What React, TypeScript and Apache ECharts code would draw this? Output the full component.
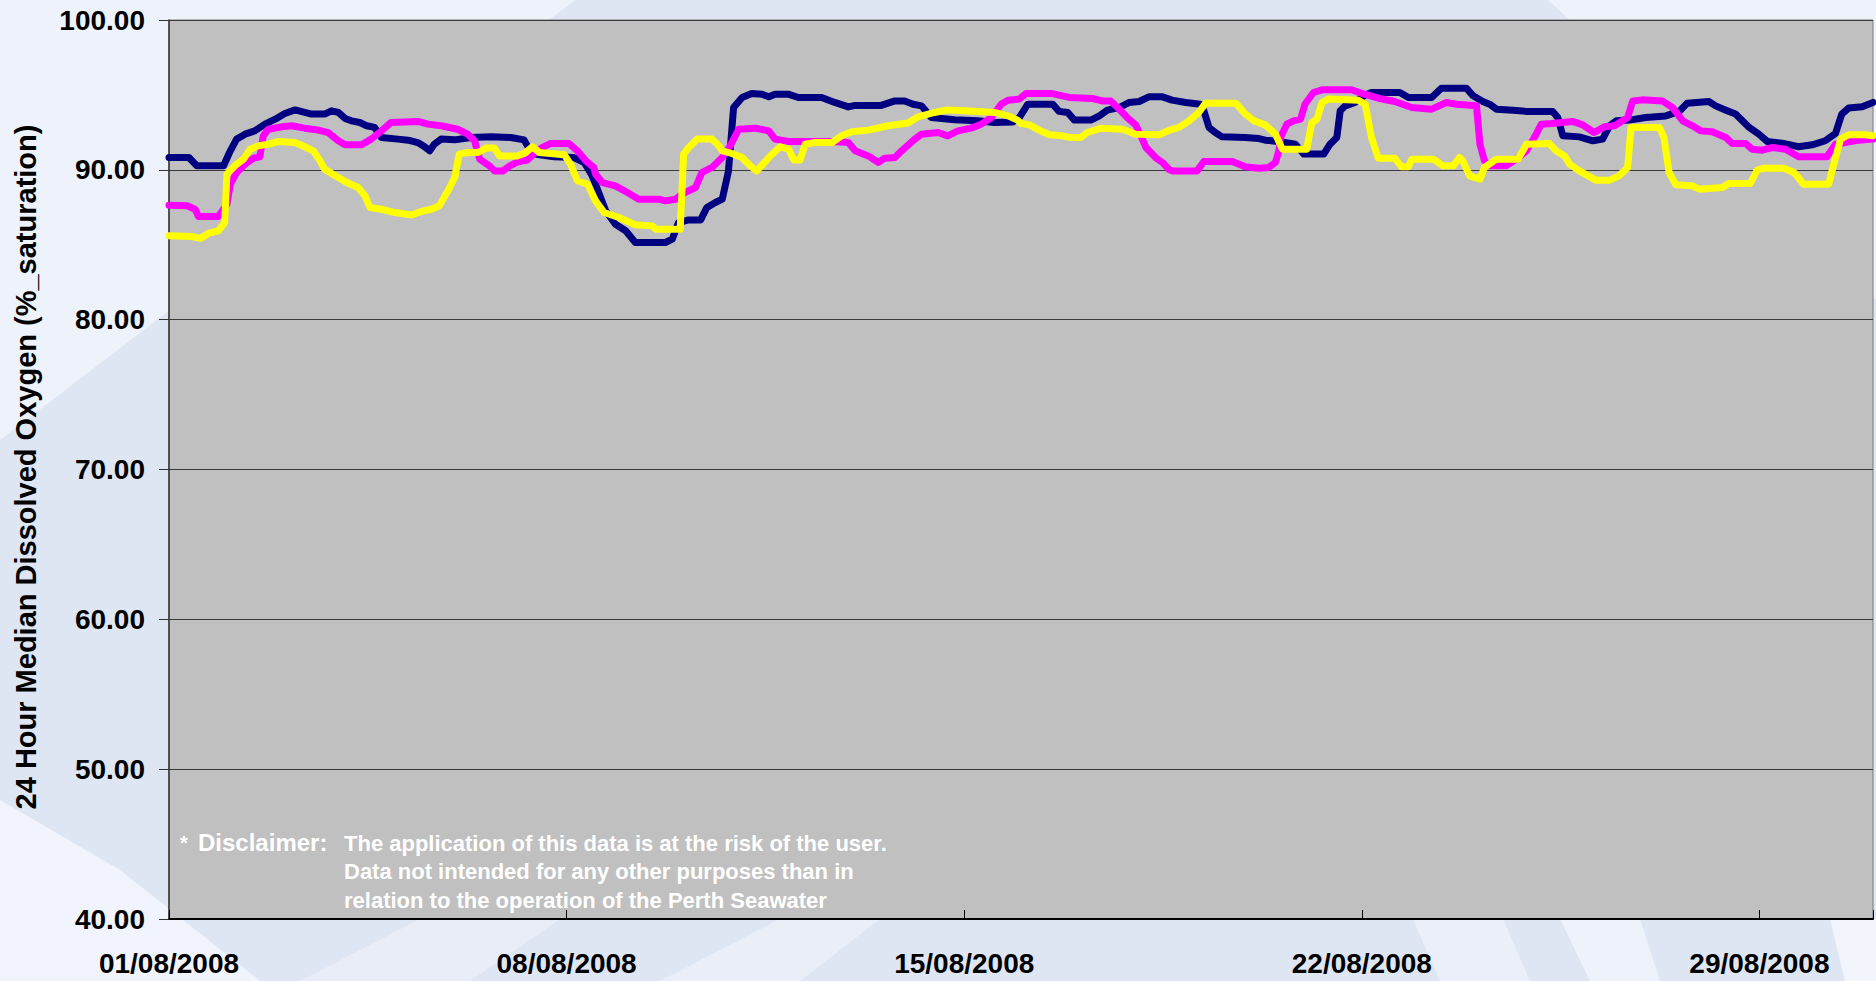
import React, { useEffect, useRef } from "react";
import * as echarts from "echarts";

const xTickLabels = ["01/08/2008", "08/08/2008", "15/08/2008", "22/08/2008", "29/08/2008"];
const yAxisTitle = "24 Hour Median Dissolved Oxygen (%_saturation)";
const disclaimerLines = [
  "The application of this data is at the risk of the user.",
  "Data not intended for any other purposes than in",
  "relation to the operation of the Perth Seawater",
];

// day offsets from 01/08/2008 00:00 and values (% saturation)
const navyDays = [0, 0.35, 0.49, 0.96, 1.08, 1.19, 1.34, 1.51, 1.69, 1.87, 2.04, 2.22, 2.39, 2.51, 2.74, 2.86, 2.98, 3.1, 3.21, 3.36, 3.48, 3.62, 3.74, 4.03, 4.21, 4.38, 4.5, 4.59, 4.67, 4.79, 5.03, 5.32, 5.67, 6.02, 6.25, 6.31, 6.43, 6.78, 7.13, 7.31, 7.45, 7.51, 7.69, 7.86, 8.04, 8.21, 8.74, 8.86, 8.97, 9.15, 9.36, 9.47, 9.62, 9.74, 9.85, 9.94, 10.09, 10.26, 10.44, 10.56, 10.67, 10.9, 11.08, 11.49, 11.72, 11.96, 12.08, 12.54, 12.78, 12.95, 13.1, 13.25, 13.42, 13.83, 14.24, 14.53, 14.86, 14.97, 15.12, 15.56, 15.67, 15.82, 15.94, 16.23, 16.38, 16.52, 16.73, 16.9, 17.08, 17.25, 17.49, 17.66, 17.9, 18.16, 18.22, 18.31, 18.42, 18.54, 18.95, 19.19, 19.3, 19.54, 19.83, 19.98, 20.33, 20.44, 20.56, 20.62, 20.71, 20.88, 21.06, 21.17, 21.67, 21.82, 22.23, 22.4, 22.84, 22.96, 23.13, 23.25, 23.37, 23.66, 23.9, 24.36, 24.45, 24.54, 24.83, 25.07, 25.24, 25.36, 25.48, 25.71, 26.0, 26.35, 26.59, 26.73, 27.11, 27.23, 27.41, 27.58, 27.82, 27.99, 28.14, 28.4, 28.69, 28.93, 29.16, 29.34, 29.45, 29.57, 29.81, 30.0];
const navyValues = [90.82, 90.82, 90.27, 90.27, 91.27, 92.05, 92.38, 92.6, 93.05, 93.38, 93.76, 94.0, 93.83, 93.72, 93.72, 93.94, 93.83, 93.43, 93.27, 93.16, 92.94, 92.83, 92.16, 92.05, 91.98, 91.82, 91.54, 91.27, 91.71, 92.05, 92.0, 92.16, 92.2, 92.16, 92.0, 91.6, 91.05, 90.87, 90.82, 90.49, 89.6, 89.04, 87.26, 86.37, 85.93, 85.15, 85.15, 85.37, 86.48, 86.66, 86.66, 87.49, 87.82, 88.04, 89.93, 94.16, 94.83, 95.1, 95.05, 94.88, 95.05, 95.05, 94.83, 94.83, 94.5, 94.2, 94.3, 94.3, 94.6, 94.6, 94.38, 94.27, 93.49, 93.34, 93.27, 93.16, 93.2, 93.49, 94.38, 94.38, 93.9, 93.83, 93.32, 93.32, 93.6, 93.98, 94.16, 94.49, 94.56, 94.87, 94.87, 94.65, 94.49, 94.38, 93.94, 92.83, 92.49, 92.2, 92.16, 92.09, 91.98, 91.89, 91.71, 91.05, 91.05, 91.71, 92.16, 93.94, 94.27, 94.49, 95.0, 95.16, 95.16, 94.83, 94.83, 95.45, 95.45, 94.94, 94.56, 94.38, 94.05, 93.98, 93.9, 93.9, 93.49, 92.27, 92.2, 91.94, 92.05, 92.94, 93.27, 93.32, 93.49, 93.6, 93.9, 94.45, 94.56, 94.27, 93.98, 93.72, 92.83, 92.38, 91.89, 91.78, 91.54, 91.67, 91.94, 92.43, 93.72, 94.12, 94.21, 94.5];

const magentaDays = [0, 0.32, 0.46, 0.52, 0.87, 1.02, 1.08, 1.19, 1.34, 1.49, 1.6, 1.66, 1.75, 1.98, 2.16, 2.39, 2.63, 2.8, 2.98, 3.1, 3.39, 3.56, 3.74, 3.91, 4.38, 4.56, 4.79, 5.08, 5.26, 5.38, 5.47, 5.64, 5.73, 5.88, 6.0, 6.14, 6.31, 6.43, 6.55, 6.72, 7.04, 7.19, 7.34, 7.48, 7.51, 7.63, 7.86, 8.04, 8.27, 8.62, 8.74, 8.92, 9.03, 9.27, 9.38, 9.56, 9.74, 9.88, 10.03, 10.32, 10.56, 10.67, 10.91, 11.67, 11.96, 12.08, 12.31, 12.49, 12.6, 12.78, 12.9, 13.13, 13.25, 13.54, 13.71, 13.89, 14.12, 14.3, 14.48, 14.65, 14.77, 14.97, 15.09, 15.53, 15.73, 15.85, 16.26, 16.43, 16.58, 16.7, 16.87, 17.02, 17.11, 17.2, 17.37, 17.49, 17.6, 17.66, 18.1, 18.22, 18.72, 18.95, 19.19, 19.36, 19.48, 19.54, 19.57, 19.68, 19.8, 19.92, 20.0, 20.15, 20.3, 20.82, 21.0, 21.29, 21.58, 21.88, 22.23, 22.49, 22.67, 23.02, 23.08, 23.16, 23.25, 23.54, 23.75, 23.9, 24.07, 24.16, 24.33, 24.71, 24.89, 25.09, 25.27, 25.45, 25.59, 25.68, 25.77, 25.94, 26.29, 26.47, 26.65, 26.82, 26.97, 27.17, 27.41, 27.52, 27.76, 27.87, 28.05, 28.23, 28.46, 28.69, 29.19, 29.34, 29.51, 29.75, 30.0];
const magentaValues = [87.64, 87.6, 87.37, 86.88, 86.88, 87.71, 89.04, 89.82, 90.38, 90.78, 90.87, 92.27, 92.71, 92.87, 92.94, 92.78, 92.65, 92.49, 91.94, 91.67, 91.67, 92.05, 92.6, 93.16, 93.23, 93.05, 92.94, 92.71, 92.38, 91.94, 90.71, 90.27, 89.93, 89.93, 90.27, 90.53, 90.65, 91.09, 91.45, 91.76, 91.76, 91.27, 90.6, 90.16, 89.71, 89.15, 88.93, 88.55, 88.04, 88.04, 87.93, 88.04, 88.38, 88.82, 89.82, 90.16, 90.82, 91.6, 92.71, 92.78, 92.6, 92.05, 91.89, 91.89, 91.82, 91.27, 90.93, 90.49, 90.78, 90.82, 91.27, 92.05, 92.38, 92.49, 92.27, 92.6, 92.78, 93.05, 93.49, 94.38, 94.65, 94.72, 95.1, 95.1, 94.94, 94.83, 94.76, 94.6, 94.6, 94.16, 93.49, 93.0, 92.27, 91.49, 90.82, 90.49, 90.04, 89.93, 89.93, 90.56, 90.56, 90.2, 90.11, 90.16, 90.49, 91.27, 92.16, 93.05, 93.27, 93.38, 94.38, 95.16, 95.34, 95.34, 95.1, 94.78, 94.56, 94.16, 94.05, 94.49, 94.38, 94.27, 91.71, 90.6, 90.27, 90.27, 90.78, 91.27, 92.38, 93.05, 93.09, 93.23, 93.0, 92.49, 92.87, 92.94, 93.27, 93.49, 94.6, 94.67, 94.6, 94.16, 93.27, 92.94, 92.6, 92.54, 92.16, 91.76, 91.76, 91.38, 91.31, 91.49, 91.38, 90.87, 90.87, 91.71, 91.82, 91.98, 92.05];

const yellowDays = [0, 0.4, 0.55, 0.7, 0.87, 0.98, 1.02, 1.16, 1.31, 1.43, 1.57, 1.81, 1.92, 2.22, 2.39, 2.54, 2.66, 2.74, 2.98, 3.13, 3.33, 3.45, 3.54, 3.74, 3.97, 4.27, 4.44, 4.62, 4.76, 4.91, 5.03, 5.11, 5.26, 5.44, 5.58, 5.73, 5.82, 6.14, 6.28, 6.4, 6.52, 6.96, 7.07, 7.19, 7.37, 7.51, 7.66, 7.92, 8.21, 8.51, 8.57, 9.0, 9.06, 9.15, 9.3, 9.56, 9.68, 9.74, 9.91, 10.09, 10.23, 10.35, 10.56, 10.76, 10.91, 11.0, 11.11, 11.2, 11.37, 11.67, 11.84, 12.02, 12.31, 12.66, 13.01, 13.19, 13.48, 13.71, 14.01, 14.24, 14.53, 14.77, 14.94, 15.0, 15.15, 15.32, 15.5, 15.73, 15.85, 16.05, 16.17, 16.41, 16.79, 17.02, 17.43, 17.58, 17.78, 17.96, 18.13, 18.25, 18.78, 18.95, 19.1, 19.3, 19.48, 19.6, 20.03, 20.12, 20.21, 20.3, 20.41, 20.94, 21.06, 21.17, 21.29, 21.58, 21.7, 21.82, 21.88, 22.26, 22.43, 22.61, 22.72, 22.78, 22.9, 23.08, 23.16, 23.37, 23.75, 23.9, 24.3, 24.42, 24.57, 24.66, 24.83, 25.12, 25.36, 25.53, 25.68, 25.74, 26.24, 26.32, 26.41, 26.53, 26.82, 26.94, 27.35, 27.46, 27.84, 27.96, 28.08, 28.43, 28.61, 28.78, 29.22, 29.34, 29.43, 29.57, 29.86, 30.0];
const yellowValues = [85.6, 85.55, 85.42, 85.77, 85.93, 86.48, 89.71, 90.27, 90.71, 91.38, 91.6, 91.76, 91.89, 91.82, 91.54, 91.27, 90.6, 90.04, 89.49, 89.15, 88.82, 88.26, 87.49, 87.37, 87.15, 86.99, 87.22, 87.37, 87.6, 88.6, 89.49, 91.05, 91.16, 91.16, 91.45, 91.45, 90.93, 90.93, 91.16, 91.54, 91.16, 91.0, 90.38, 89.27, 89.04, 87.93, 87.15, 86.82, 86.33, 86.26, 86.04, 86.04, 91.05, 91.49, 92.05, 92.05, 91.6, 91.27, 91.09, 90.82, 90.27, 89.93, 90.82, 91.54, 91.38, 90.65, 90.65, 91.71, 91.82, 91.82, 92.27, 92.54, 92.65, 92.94, 93.12, 93.54, 93.83, 94.0, 93.94, 93.9, 93.83, 93.6, 93.32, 93.09, 93.0, 92.65, 92.34, 92.27, 92.16, 92.16, 92.49, 92.78, 92.71, 92.38, 92.34, 92.6, 92.83, 93.27, 93.83, 94.45, 94.45, 93.72, 93.27, 93.0, 92.38, 91.38, 91.38, 93.16, 93.38, 94.49, 94.72, 94.65, 94.38, 92.16, 90.78, 90.78, 90.2, 90.2, 90.71, 90.71, 90.27, 90.27, 90.82, 90.6, 89.6, 89.38, 90.16, 90.71, 90.71, 91.71, 91.76, 91.27, 90.93, 90.38, 89.93, 89.31, 89.31, 89.6, 90.16, 92.83, 92.83, 92.16, 89.82, 89.0, 88.93, 88.71, 88.82, 89.09, 89.09, 89.98, 90.11, 90.11, 89.82, 89.04, 89.04, 90.82, 92.05, 92.34, 92.34, 92.27];

const FONT = "'Liberation Sans', Arial, Helvetica, sans-serif";

function pairs(days: number[], values: number[]) {
  return days.map((d, i) => [d, values[i]]);
}

export default function App() {
  const ref = useRef<HTMLDivElement>(null);

  useEffect(() => {
    if (!ref.current) return;
    const chart = echarts.init(ref.current, undefined, { renderer: "svg" });

    const lineSeries = (name: string, color: string, data: number[][]) => ({
      name,
      type: "line",
      data,
      showSymbol: false,
      symbol: "none",
      clip: true,
      lineStyle: { color, width: 7, cap: "round", join: "round" },
      itemStyle: { color },
    });

    const bgShape = (points: number[][], fill: string) => ({
      type: "polygon",
      z: -10,
      silent: true,
      shape: { points },
      style: { fill },
    });

    chart.setOption({
      animation: false,
      backgroundColor: "#EEF2FA",
      grid: {
        left: 169,
        right: 0,
        top: 20,
        bottom: 62,
        show: true,
        backgroundColor: "#C0C0C0",
        borderColor: "#7a7a7a",
        borderWidth: 1,
      },
      xAxis: {
        type: "value",
        min: 0,
        max: 30,
        interval: 7,
        axisLine: { show: true, onZero: false, lineStyle: { color: "#000", width: 2 } },
        axisTick: { show: true, inside: true, length: 9, lineStyle: { color: "#000", width: 1 } },
        splitLine: { show: false },
        axisLabel: {
          margin: 30,
          color: "#000",
          fontFamily: FONT,
          fontWeight: "bold",
          fontSize: 28,
          formatter: (v: number) => {
            const i = v / 7;
            return Number.isInteger(i) && i < xTickLabels.length ? xTickLabels[i] : "";
          },
        },
      },
      yAxis: {
        type: "value",
        min: 40,
        max: 100,
        interval: 10,
        axisLine: { show: true, lineStyle: { color: "#333", width: 1.5 } },
        axisTick: { show: true, inside: false, length: 10, lineStyle: { color: "#333", width: 1 } },
        splitLine: { show: true, lineStyle: { color: "#3a3a3a", width: 1 } },
        axisLabel: {
          margin: 24,
          color: "#000",
          fontFamily: FONT,
          fontWeight: "bold",
          fontSize: 28,
          formatter: (v: number) => v.toFixed(2),
        },
      },
      graphic: [
        bgShape([[0, 440], [575, 0], [1548, 0], [1876, 300], [1876, 981], [0, 981]], "#DFE6F3"),
        bgShape([[0, 800], [120, 870], [260, 981], [0, 981]], "#F1F4FC"),
        bgShape([[300, 981], [420, 919], [560, 919], [470, 981]], "#E8EDF7"),
        bgShape([[660, 981], [780, 919], [880, 919], [800, 981]], "#E9EEF8"),
        bgShape([[1413, 919], [1503, 919], [1530, 981], [1440, 981]], "#EBEFF9"),
        bgShape([[1560, 919], [1640, 919], [1660, 981], [1590, 981]], "#EEF2FA"),
        bgShape([[1830, 919], [1876, 919], [1876, 981], [1845, 981]], "#F2F5FC"),
        {
          type: "text",
          x: 26,
          y: 467,
          rotation: Math.PI / 2,
          z: 50,
          style: {
            text: yAxisTitle,
            fill: "#000",
            font: `bold 29px ${FONT}`,
            align: "center",
            verticalAlign: "middle",
          },
        },
        {
          type: "text",
          x: 180,
          y: 843,
          z: 50,
          style: { text: "*", fill: "#fff", font: `bold 20px ${FONT}`, verticalAlign: "middle" },
        },
        {
          type: "text",
          x: 198,
          y: 842,
          z: 50,
          style: { text: "Disclaimer:", fill: "#fff", font: `bold 24px ${FONT}`, verticalAlign: "middle" },
        },
        ...disclaimerLines.map((t, i) => ({
          type: "text",
          x: 344,
          y: 843 + i * 28.5,
          z: 50,
          style: { text: t, fill: "#fff", font: `bold 22px ${FONT}`, verticalAlign: "middle" },
        })),
      ],
      series: [
        lineSeries("Series 1", "#000080", pairs(navyDays, navyValues)),
        lineSeries("Series 2", "#FF00FF", pairs(magentaDays, magentaValues)),
        lineSeries("Series 3", "#FFFF00", pairs(yellowDays, yellowValues)),
      ],
    });

    return () => chart.dispose();
  }, []);

  return (
    <div
      ref={ref}
      style={{ position: "fixed", left: 0, top: 0, width: 1876, height: 981 }}
    />
  );
}
